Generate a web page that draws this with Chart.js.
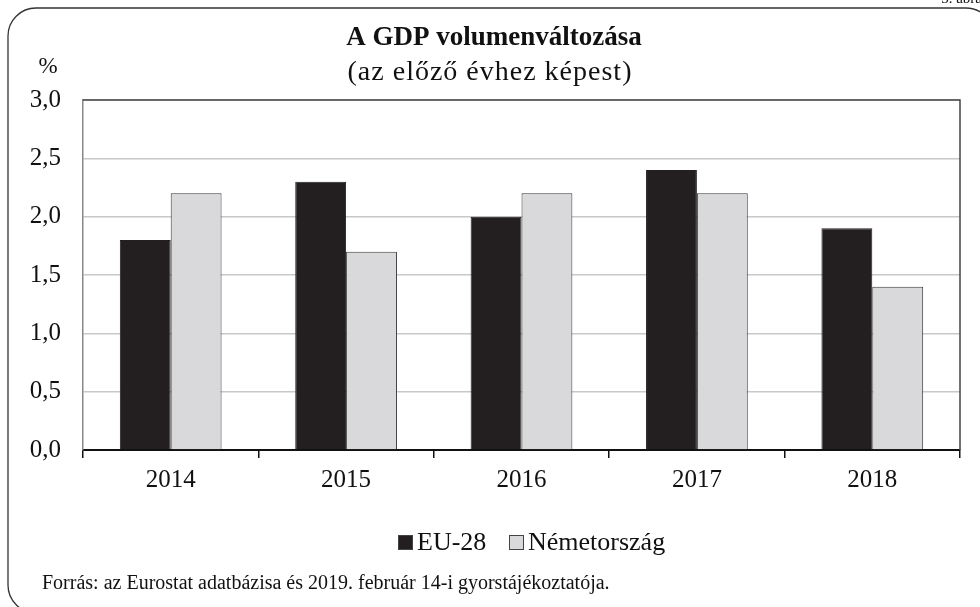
<!DOCTYPE html>
<html>
<head>
<meta charset="utf-8">
<script src="https://cdn.jsdelivr.net/npm/chart.js@4/dist/chart.umd.min.js"></script>
<style>
  html, body { margin: 0; padding: 0; background: #fff; }
  #wrap { width: 980px; height: 607px; position: relative; }
</style>
</head>
<body>
<div id="wrap"><canvas id="gdpChart" width="980" height="607"></canvas></div>
<script>
var years = ["2014", "2015", "2016", "2017", "2018"];
var eu28 = [1.8, 2.3, 2.0, 2.4, 1.9];
var nemetorszag = [2.2, 1.7, 2.2, 2.2, 1.4];
var seriesNames = ["EU-28", "Németország"];
var yTicks = [0, 0.5, 1, 1.5, 2, 2.5, 3];

var serif = "'Liberation Serif', 'DejaVu Serif', serif";
Chart.defaults.font.family = serif;
Chart.defaults.color = "#111";

// texts, frame and legend around the plot
var decor = {
    id: "decor",
    afterDraw: function(chart) {
        var ctx = chart.ctx;
        var a = chart.chartArea;
        ctx.save();

        // plot border top + right
        ctx.strokeStyle = "#444";
        ctx.lineWidth = 1.5;
        ctx.beginPath();
        ctx.moveTo(a.left, a.top);
        ctx.lineTo(a.right, a.top);
        ctx.lineTo(a.right, a.bottom);
        ctx.stroke();

        // rounded outer frame
        ctx.strokeStyle = "#333";
        ctx.lineWidth = 1.3;
        ctx.beginPath();
        ctx.roundRect(8, 8, 986, 605, 28);
        ctx.stroke();

        ctx.fillStyle = "#111";
        ctx.textBaseline = "middle";
        ctx.textAlign = "center";
        ctx.font = "bold 27px " + serif;
        ctx.fillText("A GDP volumenváltozása", 494, 38);
        ctx.font = "28px " + serif;
        ctx.letterSpacing = "1px";
        ctx.fillText("(az előző évhez képest)", 490, 73);
        ctx.letterSpacing = "0px";

        ctx.font = "23px " + serif;
        ctx.fillText("%", 48, 67);

        ctx.textAlign = "right";
        ctx.textBaseline = "alphabetic";
        ctx.font = "15px " + serif;
        ctx.fillText("3. ábra", 982, 3);

        // legend
        var ds = chart.data.datasets;
        var lx = [398, 509];
        ctx.font = "26px " + serif;
        ctx.textAlign = "left";
        ctx.textBaseline = "middle";
        for (var i = 0; i < ds.length; i++) {
            ctx.fillStyle = ds[i].backgroundColor;
            ctx.fillRect(lx[i], 535, 15, 15);
            ctx.strokeStyle = "#444";
            ctx.lineWidth = 1;
            ctx.strokeRect(lx[i] + 0.5, 535.5, 14, 14);
            ctx.fillStyle = "#111";
            ctx.fillText(ds[i].label, lx[i] + 19, 543);
        }

        ctx.font = "20px " + serif;
        ctx.fillText("Forrás: az Eurostat adatbázisa és 2019. február 14-i gyorstájékoztatója.", 42, 584);
        ctx.restore();
    }
};

var canvasElement = document.getElementById("gdpChart");
var config = {
    type: "bar",
    data: {
        labels: years,
        datasets: [
            {
                label: seriesNames[0],
                data: eu28,
                backgroundColor: "#231f20",
                borderColor: "#231f20",
                borderWidth: 1,
                categoryPercentage: 0.58,
                barPercentage: 1
            },
            {
                label: seriesNames[1],
                data: nemetorszag,
                backgroundColor: "#d9d9db",
                borderColor: "#3a3a3a",
                borderWidth: 1,
                categoryPercentage: 0.58,
                barPercentage: 1
            }
        ]
    },
    options: {
        responsive: false,
        animation: false,
        layout: { padding: { top: 100, left: 0, right: 20, bottom: 0 } },
        plugins: {
            legend: { display: false },
            title: { display: false },
            tooltip: { enabled: false }
        },
        scales: {
            x: {
                grid: { drawOnChartArea: false, drawTicks: true, tickLength: 8, color: "#111", lineWidth: 1.5 },
                border: { color: "#111", width: 2 },
                ticks: { font: { size: 25 }, color: "#111", padding: 7 },
                afterFit: function(scale) { scale.height = 157; }
            },
            y: {
                min: 0,
                max: 3,
                afterBuildTicks: function(scale) {
                    scale.ticks = yTicks.map(function(v) { return { value: v }; });
                },
                grid: { color: "#c8c8c8", lineWidth: 1.5, drawTicks: false },
                border: { color: "#888", width: 1.5 },
                ticks: {
                    font: { size: 25 },
                    color: "#111",
                    padding: 22,
                    callback: function(v) { return v.toFixed(1).replace(".", ","); }
                },
                afterFit: function(scale) { scale.width = 83; }
            }
        }
    },
    plugins: [decor]
};

var gdpChart = new Chart(canvasElement, config);
</script>
</body>
</html>
